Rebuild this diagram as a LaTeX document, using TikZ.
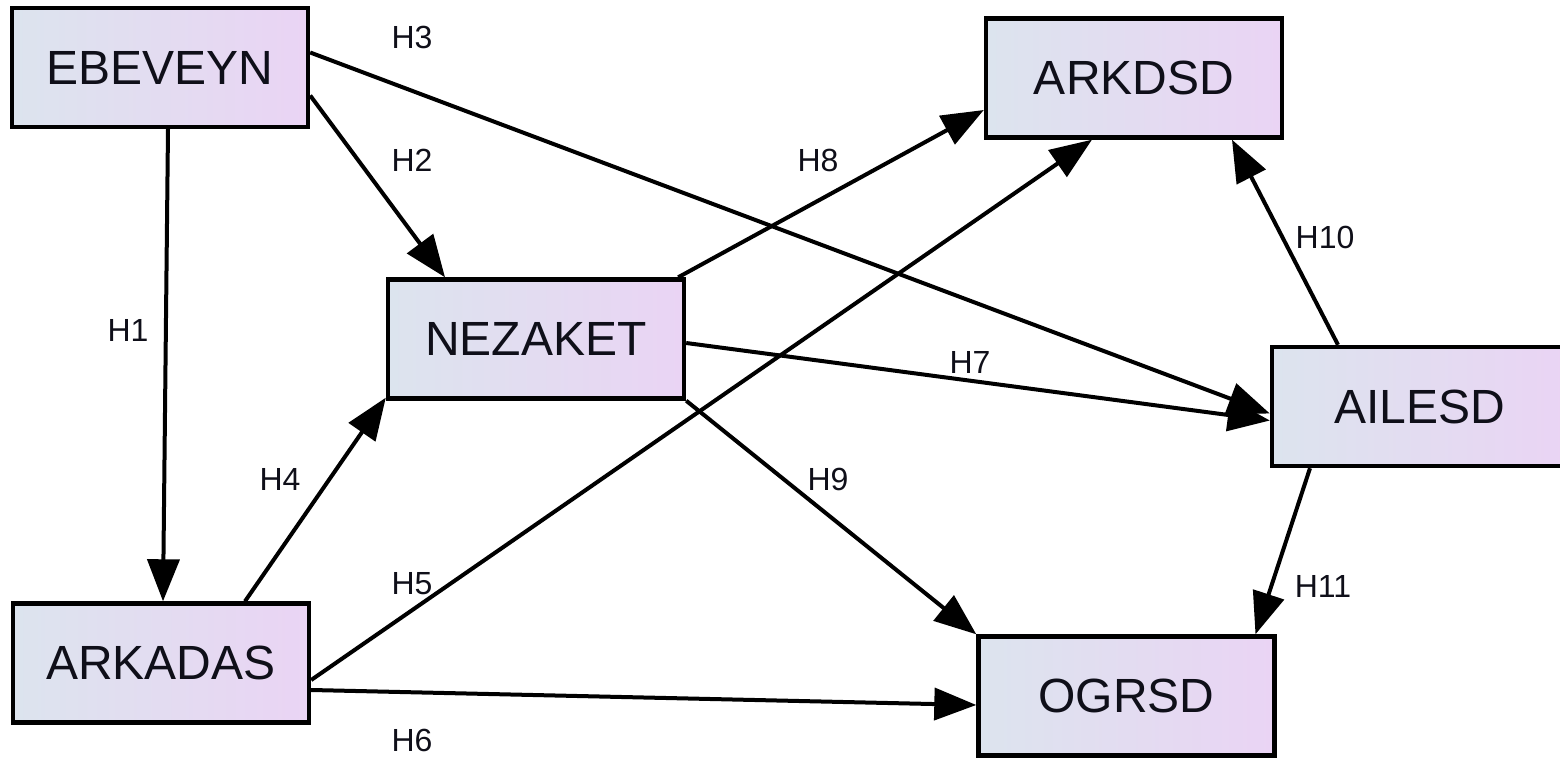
\documentclass[tikz,border=0pt]{standalone}
\usepackage{fontspec}
\setmainfont{Liberation Sans}
\usetikzlibrary{arrows.meta}
\definecolor{boxL}{RGB}{220,228,238}
\definecolor{boxR}{RGB}{234,212,244}
\definecolor{txt}{RGB}{15,15,25}
\begin{document}
\begin{tikzpicture}[x=0.5pt,y=-0.5pt,
  box/.style={draw=black,line width=2.2pt,minimum width=148pt,minimum height=59.5pt,inner sep=0pt,
    left color=boxL,right color=boxR,text=txt,font=\fontsize{24}{28}\selectfont},
  conn/.style={line width=2pt,-{Triangle[length=21pt,width=16pt]}},
  lab/.style={font=\fontsize{16}{18}\selectfont,text=txt,inner sep=0pt}]
\useasboundingbox (0,0) rectangle (1560,759);
\node[box] (eb) at (160,67.5) {EBEVEYN};
\node[box] (ad) at (1134,78) {ARKDSD};
\node[box] (nz) at (536,339) {NEZAKET};
\node[box] (ai) at (1420,406.5) {AILESD};
\node[box] (ak) at (161,663) {ARKADAS};
\node[box] (og) at (1126.5,696) {OGRSD};

\draw[conn] ([xshift=4pt]eb.south) -- ([xshift=1pt]ak.north);
\draw[conn] ([yshift=-14pt]eb.east) -- ([xshift=-45.5pt]nz.north);
\draw[conn] ([yshift=7.5pt]eb.east) -- ([yshift=-3.5pt]ai.west);
\draw[conn] ([xshift=42pt]ak.north) -- ([yshift=1.5pt]nz.south west);
\draw[conn] ([yshift=-8.5pt]ak.east) -- ([xshift=-21pt]ad.south);
\draw[conn] ([yshift=-13.5pt]ak.east) -- ([yshift=-4.5pt]og.west);
\draw[conn] ([yshift=-2pt]nz.east) -- ([yshift=-7pt]ai.west);
\draw[conn] ([xshift=-4pt]nz.north east) -- ([yshift=-16pt]ad.west);
\draw[conn] (nz.south east) -- (og.north west);
\draw[conn] ([xshift=-41pt]ai.north) -- ([xshift=49pt]ad.south);
\draw[conn] ([xshift=-55pt]ai.south) -- ([xshift=64.5pt]og.north);

\node[lab] (l1) at (128,330) {H1};
\node[lab] (l2) at (412,160) {H2};
\node[lab] (l3) at (412,37) {H3};
\node[lab] (l4) at (280,479) {H4};
\node[lab] (l5) at (412,584) {H5};
\node[lab] (l6) at (412,740) {H6};
\node[lab] (l7) at (970,362) {H7};
\node[lab] (l8) at (818,160) {H8};
\node[lab] (l9) at (828,479) {H9};
\node[lab] (l10) at (1325,237) {H10};
\node[lab] (l11) at (1323,586) {H11};
\end{tikzpicture}
\end{document}
